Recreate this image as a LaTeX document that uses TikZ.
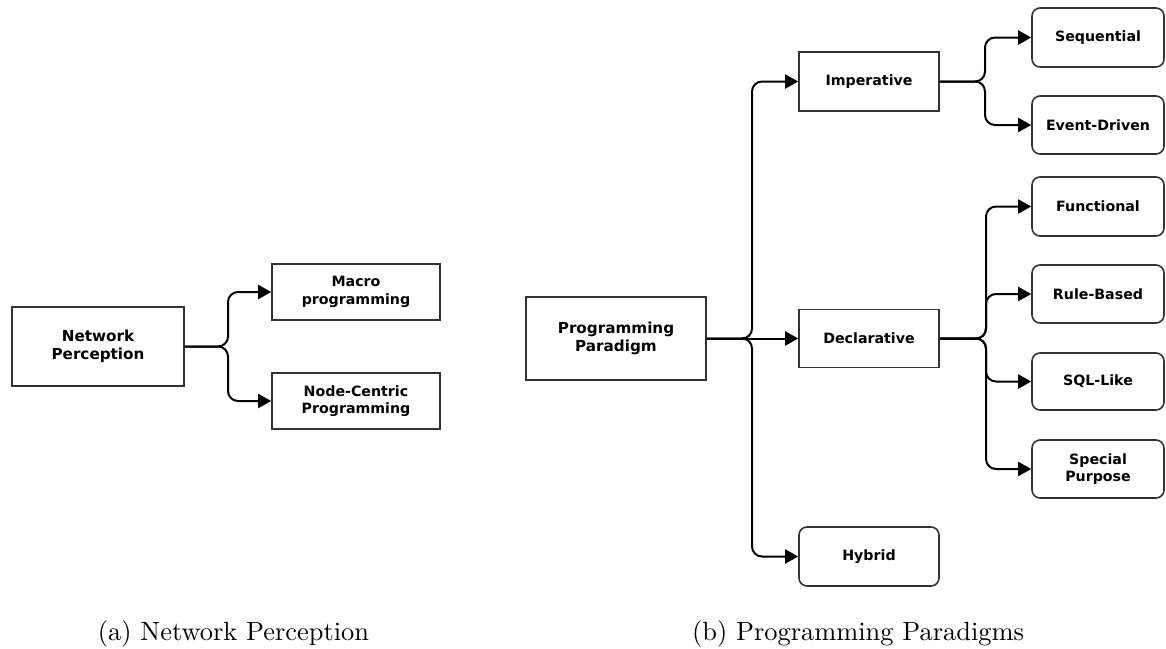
\documentclass[tikz,border=0pt]{standalone}
\usepackage{fontspec}
\usetikzlibrary{arrows.meta}
\newfontfamily\boxfontfam{DejaVu Sans}
\begin{document}
\begin{tikzpicture}[x=1pt,y=-1pt,
  box/.style={draw=black!80, line width=1.6pt, fill=white, align=center, inner sep=0pt,
    font=\boxfontfam\bfseries\fontsize{14.2}{17.5}\selectfont},
  bigbox/.style={box, font=\boxfontfam\bfseries\fontsize{15.2}{17.5}\selectfont},
  rbox/.style={box, rounded corners=8pt},
  conn/.style={line width=2pt, rounded corners=10pt, -{Triangle[length=13pt,width=14pt]}},
  captext/.style={anchor=base, scale=2.64}
]
\useasboundingbox (0,0) rectangle (1166,648);

% (a)
\node[bigbox, minimum width=172pt, minimum height=79pt] (np) at (98,346.5) {Network\\Perception};
\node[box, minimum width=168pt, minimum height=56pt] (mac) at (356,292) {Macro\\programming};
\node[box, minimum width=168pt, minimum height=56pt] (ncp) at (356,401) {Node-Centric\\Programming};
\coordinate (j1) at (228,346.5);
\draw[conn] (np.east) -- (j1) |- (mac.west);
\draw[conn] (np.east) -- (j1) |- (ncp.west);

% (b)
\node[bigbox, minimum width=180pt, minimum height=83pt] (pp) at (616,338.5) {Programming\\Paradigm};
\node[box, minimum width=140pt, minimum height=59pt] (imp) at (869,81.5) {Imperative};
\node[box, minimum width=140pt, minimum height=58pt] (dec) at (869,338.5) {Declarative};
\node[rbox, minimum width=140pt, minimum height=59pt] (hyb) at (869,556.5) {Hybrid};

\node[rbox, minimum width=132pt, minimum height=59pt] (seq) at (1098,37.5) {Sequential};
\node[rbox, minimum width=132pt, minimum height=58pt] (evd) at (1098,125) {Event-Driven};
\node[rbox, minimum width=132pt, minimum height=59pt] (fun) at (1098,206.5) {Functional};
\node[rbox, minimum width=132pt, minimum height=58pt] (rul) at (1098,294) {Rule-Based};
\node[rbox, minimum width=132pt, minimum height=57pt] (sql) at (1098,381.5) {SQL-Like};
\node[rbox, minimum width=132pt, minimum height=58pt] (spp) at (1098,469) {Special\\Purpose};

\coordinate (j2) at (752,338.5);
\coordinate (j3) at (985,81.5);
\coordinate (j4) at (986,338.5);

\draw[conn] (pp.east) -- (j2) |- (imp.west);
\draw[conn] (pp.east) -- (dec.west);
\draw[conn] (pp.east) -- (j2) |- (hyb.west);

\draw[conn] (imp.east) -- (j3) |- (seq.west);
\draw[conn] (imp.east) -- (j3) |- (evd.west);

\draw[conn] (dec.east) -- (j4) |- (fun.west);
\draw[conn] (dec.east) -- (j4) |- (rul.west);
\draw[conn] (dec.east) -- (j4) |- (sql.west);
\draw[conn] (dec.east) -- (j4) |- (spp.west);

% captions
\node[captext] (capa) at (233.5,640) {(a) Network Perception};
\node[captext] (capb) at (858,640) {(b) Programming Paradigms};
\end{tikzpicture}
\end{document}
